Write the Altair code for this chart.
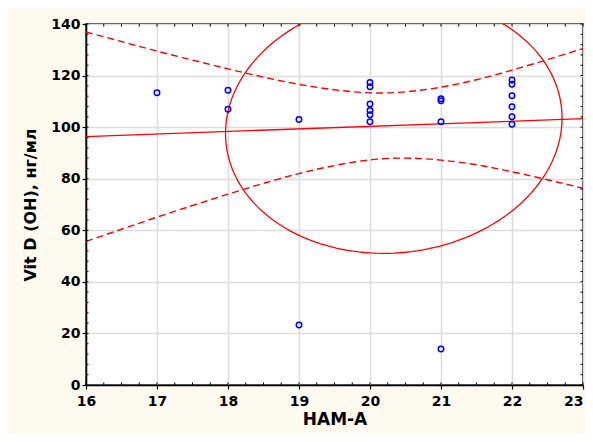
import altair as alt
import pandas as pd
import numpy as np

# --- scatter data ---
hama = [17, 18, 18, 19, 19,
        20, 20, 20, 20, 20, 20,
        21, 21, 21, 21,
        22, 22, 22, 22, 22, 22]
vitd = [113.3, 114.3, 106.9, 103.0, 23.3,
        117.3, 115.7, 109.0, 106.5, 104.8, 102.1,
        111.0, 110.2, 102.1, 14.0,
        118.3, 116.6, 112.2, 107.9, 104.0, 101.1]

# --- 95% confidence band ---
band_x = [16, 16.5, 17, 17.5, 18, 18.5, 19, 19.5, 20, 20.5, 21, 21.5, 22, 22.5, 23]
band_upper = [136.9, 133.2, 129.5, 126.0, 122.6, 119.4, 116.6, 114.5, 113.3, 113.7,
              115.5, 118.4, 122.1, 126.2, 130.5]
band_lower = [55.7, 60.4, 65.1, 69.6, 74.0, 78.2, 82.0, 85.1, 87.3, 88.0,
              87.2, 85.4, 82.7, 79.6, 76.3]

# --- ellipse parameters ---
ell_cx, ell_cy = 20.335, 100.55
ell_ax, ell_ay, ell_shear = 2.37, 49.4, 3.0

# --- ticks ---
x_major = [16, 17, 18, 19, 20, 21, 22, 23]
y_major = [0, 20, 40, 60, 80, 100, 120, 140]
x_minor = [16 + 0.25 * i for i in range(29)]
y_minor = [4 * i for i in range(36)]

FONT = "DejaVu Sans"
RED = "#ff0000"
BLUE = "#0000ff"

df_pts = pd.DataFrame({"x": hama, "y": vitd})
df_band = pd.DataFrame({"x": band_x, "up": band_upper, "lo": band_lower})
t = np.linspace(0, 2 * np.pi, 181)
df_ell = pd.DataFrame({
    "t": t,
    "x": ell_cx + ell_ax * np.cos(t),
    "y": ell_cy + ell_ay * np.sin(t) + ell_shear * np.cos(t),
})
df_xm = pd.DataFrame({"x": x_minor})
df_ym = pd.DataFrame({"y": y_minor})

X_SCALE = alt.Scale(domain=[16, 23], nice=False, zero=False)
Y_SCALE = alt.Scale(domain=[0, 140], nice=False, zero=False)

x_axis = alt.Axis(
    values=x_major, format="d", grid=True, gridColor="#dcdcdc", gridWidth=1.5,
    domainColor="black", domainWidth=1.5, tickColor="black", tickSize=4, tickWidth=1.2,
    labelFont=FONT, labelFontSize=14, labelFontWeight="bold", labelColor="black",
    labelPadding=5, labelFlush=False, labelOverlap=False,
    labelAlign={"expr": "datum.value >= 23 ? 'right' : 'center'"},
    titleFont=FONT, titleFontSize=17, titleFontWeight="bold",
    titleColor="black", titlePadding=3,
)
y_axis = alt.Axis(
    values=y_major, format="d", grid=True, gridColor="#dcdcdc", gridWidth=1.5,
    domainColor="black", domainWidth=1.5, tickColor="black", tickSize=4, tickWidth=1.2,
    labelFont=FONT, labelFontSize=14, labelFontWeight="bold", labelColor="black",
    labelPadding=2, labelFlush=False, labelOverlap=False,
    titleFont=FONT, titleFontSize=16, titleFontWeight="bold",
    titleColor="black", titleX=-56, titleY=180.5, titleAngle=270,
    titleAlign="center", titleBaseline="middle",
)


def xe(field):
    return alt.X(f"{field}:Q", scale=X_SCALE, axis=x_axis, title="HAM-A")


def ye(field):
    return alt.Y(f"{field}:Q", scale=Y_SCALE, axis=y_axis, title="Vit D (OH), нг/мл")


upper = alt.Chart(df_band).mark_line(
    color=RED, strokeWidth=1.4, strokeDash=[7, 4], interpolate="natural", clip=True
).encode(x=xe("x"), y=ye("up"))
lower = alt.Chart(df_band).mark_line(
    color=RED, strokeWidth=1.4, strokeDash=[7, 4], interpolate="natural", clip=True
).encode(x=xe("x"), y=ye("lo"))

reg = alt.Chart(df_pts).transform_regression(
    "x", "y", extent=[16, 23]
).mark_line(color=RED, strokeWidth=1.3, clip=True).encode(x=xe("x"), y=ye("y"))

ell = alt.Chart(df_ell).mark_line(color=RED, strokeWidth=1.3, clip=True).encode(
    x=xe("x"), y=ye("y"), order="t:Q"
)

pts = alt.Chart(df_pts).mark_point(
    shape="circle", filled=False, color=BLUE, size=30, strokeWidth=1.5, opacity=1
).encode(x=xe("x"), y=ye("y"))

tick_style = dict(color="black", strokeWidth=1)
bot_ticks = alt.Chart(df_xm).mark_rule(**tick_style).encode(
    x=xe("x"), y=alt.datum(0), y2=alt.datum(1.0))
top_ticks = alt.Chart(df_xm).mark_rule(**tick_style).encode(
    x=xe("x"), y=alt.datum(140), y2=alt.datum(139.0))
left_ticks = alt.Chart(df_ym).mark_rule(**tick_style).encode(
    y=ye("y"), x=alt.datum(16), x2=alt.datum(16.035))
right_ticks = alt.Chart(df_ym).mark_rule(**tick_style).encode(
    y=ye("y"), x=alt.datum(23), x2=alt.datum(22.965))

chart = alt.layer(
    upper, lower, reg, ell, bot_ticks, top_ticks, left_ticks, right_ticks, pts
).properties(
    width=497, height=361,
    autosize=alt.AutoSizeParams(type="none"),
    padding={"left": 78, "top": 16, "right": 2, "bottom": 49},
    background="#fefaf0",
).configure_view(
    fill="white", stroke="black", strokeWidth=1.5
)

chart.save("out.html", embed_options={"renderer": "svg", "actions": False})
